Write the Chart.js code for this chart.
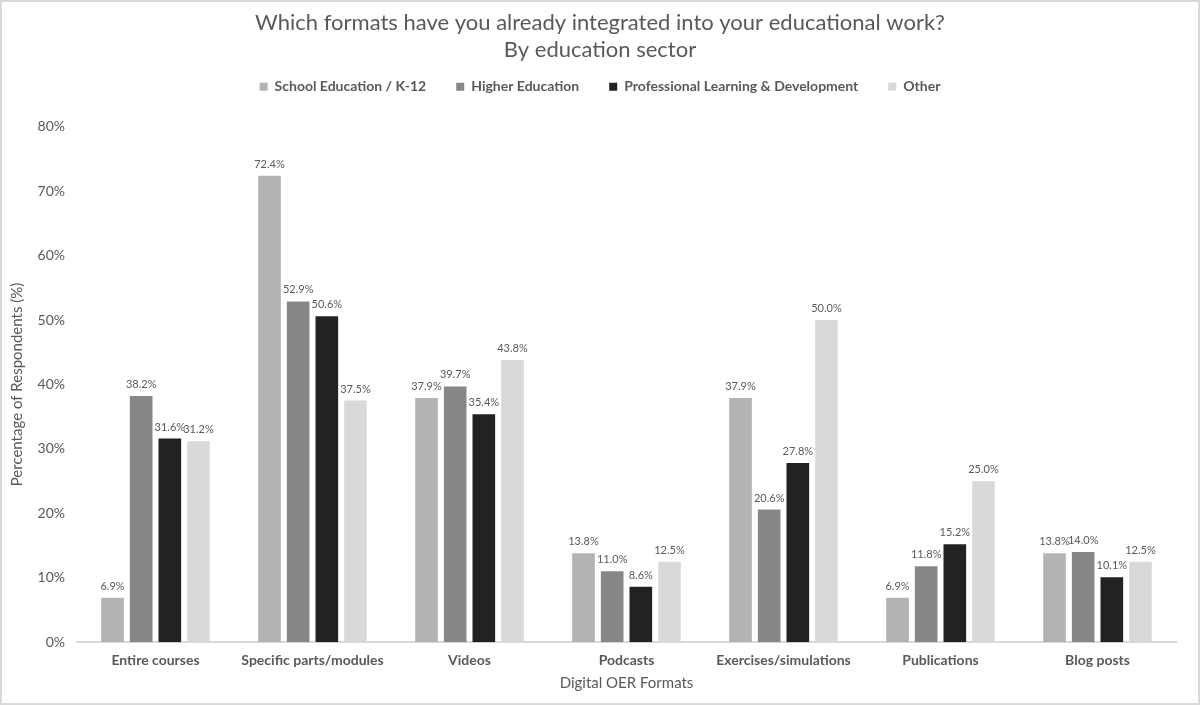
<!DOCTYPE html>
<html lang="en">
<head>
    <meta charset="UTF-8">
    <title>OER formats by education sector</title>
    <style>
        html, body {
            margin: 0;
            padding: 0;
            background: #fff;
        }
        .frame {
            width: 1200px;
            height: 705px;
            box-sizing: border-box;
            border: 2px solid #d9d9d9;
            position: relative;
        }
        canvas {
            position: absolute;
            left: -2px;
            top: -2px;
        }
    </style>
</head>
<body>
    <div class="frame">
        <canvas id="formatsChart" width="1200" height="705"></canvas>
    </div>
    <script src="https://cdn.jsdelivr.net/npm/chart.js"></script>
    <script>
        // Categories and values (percent of respondents)
        const formats = ['Entire courses', 'Specific parts/modules', 'Videos', 'Podcasts', 'Exercises/simulations', 'Publications', 'Blog posts'];
        const schoolK12 = [6.9, 72.4, 37.9, 13.8, 37.9, 6.9, 13.8];
        const higherEd = [38.2, 52.9, 39.7, 11.0, 20.6, 11.8, 14.0];
        const professional = [31.6, 50.6, 35.4, 8.6, 27.8, 15.2, 10.1];
        const other = [31.2, 37.5, 43.8, 12.5, 50.0, 25.0, 12.5];
        const yTicks = [0, 10, 20, 30, 40, 50, 60, 70, 80];

        const textGrey = '#595959';
        const font = 'Lato, "Open Sans", sans-serif';

        // Draws the value above each bar
        const valueLabels = {
            id: 'valueLabels',
            afterDatasetsDraw(chart) {
                const ctx = chart.ctx;
                ctx.save();
                ctx.font = '11px ' + font;
                ctx.fillStyle = textGrey;
                ctx.textAlign = 'center';
                ctx.textBaseline = 'bottom';
                chart.data.datasets.forEach((ds, i) => {
                    chart.getDatasetMeta(i).data.forEach((bar, j) => {
                        ctx.fillText(ds.data[j].toFixed(1) + '%', bar.x, bar.y - 6);
                    });
                });
                ctx.restore();
            }
        };

        // Extra space under the legend, and title/legend centred on the whole canvas
        const headerLayout = {
            id: 'headerLayout',
            beforeInit(chart) {
                const legend = chart.legend;
                const fit = legend.fit;
                legend.fit = function () {
                    fit.call(this);
                    this.height += 23;
                };
            },
            afterLayout(chart) {
                [chart.titleBlock, chart.legend].forEach(box => {
                    box.left = 0;
                    box.right = chart.width;
                });
            }
        };

        const barOpts = {
            categoryPercentage: 0.73,
            barPercentage: 0.79,
            borderWidth: 0
        };

        new Chart(document.getElementById('formatsChart'), {
            type: 'bar',
            data: {
                labels: formats,
                datasets: [
                    { label: 'School Education / K-12', data: schoolK12, backgroundColor: '#b3b3b3', ...barOpts },
                    { label: 'Higher Education', data: higherEd, backgroundColor: '#878787', ...barOpts },
                    { label: 'Professional Learning & Development', data: professional, backgroundColor: '#222222', ...barOpts },
                    { label: 'Other', data: other, backgroundColor: '#d9d9d9', ...barOpts }
                ]
            },
            options: {
                responsive: false,
                animation: false,
                layout: {
                    padding: { left: 4, right: 24, top: 10, bottom: 9 }
                },
                plugins: {
                    title: {
                        display: true,
                        text: ['Which formats have you already integrated into your educational work?', 'By education sector'],
                        color: textGrey,
                        font: { family: font, size: 22, weight: 'normal', lineHeight: 1.2 },
                        padding: { top: 0, bottom: -13 }
                    },
                    legend: {
                        position: 'top',
                        labels: {
                            color: textGrey,
                            boxWidth: 8,
                            boxHeight: 8,
                            padding: 30,
                            font: { family: font, size: 14, weight: 'bold' }
                        }
                    },
                    tooltip: { enabled: false }
                },
                scales: {
                    x: {
                        grid: { display: false },
                        border: { color: '#d9d9d9', width: 2 },
                        ticks: {
                            color: textGrey,
                            padding: 2,
                            font: { family: font, size: 14, weight: 'bold' }
                        },
                        title: {
                            display: true,
                            text: 'Digital OER Formats',
                            color: textGrey,
                            padding: { top: 3 },
                            font: { family: font, size: 15 }
                        }
                    },
                    y: {
                        min: yTicks[0],
                        max: yTicks[yTicks.length - 1],
                        grid: { display: false },
                        border: { display: false },
                        afterBuildTicks(scale) {
                            scale.ticks = yTicks.map(v => ({ value: v }));
                        },
                        afterFit(scale) {
                            scale.width = 73;
                        },
                        ticks: {
                            color: textGrey,
                            padding: 4,
                            font: { family: font, size: 14 },
                            callback: v => v + '%'
                        },
                        title: {
                            display: true,
                            text: 'Percentage of Respondents (%)',
                            color: textGrey,
                            font: { family: font, size: 15 }
                        }
                    }
                }
            },
            plugins: [valueLabels, headerLayout]
        });
    </script>
</body>
</html>
